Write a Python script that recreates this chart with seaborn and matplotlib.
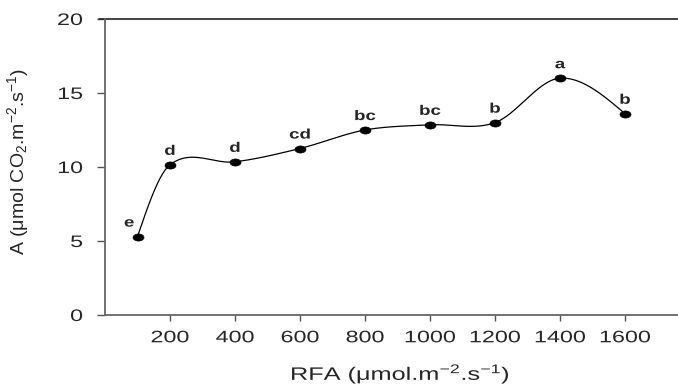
import numpy as np
import pandas as pd
import matplotlib
matplotlib.use("Agg")
import matplotlib.pyplot as plt
from matplotlib.patheffects import AbstractPathEffect
from matplotlib.transforms import Affine2D
from matplotlib.markers import MarkerStyle
import seaborn as sns

# Data
rfa = [100, 200, 400, 600, 800, 1000, 1200, 1400, 1600]
assim = [5.3, 10.15, 10.35, 11.25, 12.5, 12.85, 13.0, 16.0, 13.6]
letters = ["e", "d", "d", "cd", "bc", "bc", "b", "a", "b"]
xticks = [200, 400, 600, 800, 1000, 1200, 1400, 1600]
yticks = [0, 5, 10, 15, 20]

sns.set_theme(style="white")
plt.rcParams['font.family'] = ['Liberation Sans', 'DejaVu Sans']
plt.rcParams['mathtext.fontset'] = 'custom'
plt.rcParams['mathtext.rm'] = 'Liberation Sans'
plt.rcParams['mathtext.it'] = 'Liberation Sans:italic'
plt.rcParams['mathtext.bf'] = 'Liberation Sans:bold'


class StretchX(AbstractPathEffect):
    """Stretch drawn text horizontally (display x) about an anchor."""
    def __init__(self, sx=1.4, anchor="center"):
        super().__init__()
        self.sx = sx
        self.anchor = anchor

    def draw_path(self, renderer, gc, tpath, affine, rgbFace=None):
        ext = tpath.get_extents(affine)
        if self.anchor == "right":
            cx = ext.x1
        elif self.anchor == "left":
            cx = ext.x0
        else:
            cx = 0.5 * (ext.x0 + ext.x1)
        new = affine + Affine2D().translate(-cx, 0).scale(self.sx, 1).translate(cx, 0)
        renderer.draw_path(gc, tpath, new, rgbFace)


def cardinal_curve(x, y, n=60):
    x = np.asarray(x, float); y = np.asarray(y, float)
    m = len(x)
    t = np.zeros(m)
    for i in range(1, m - 1):
        t[i] = (y[i + 1] - y[i - 1]) / (x[i + 1] - x[i - 1])
    s0 = (y[1] - y[0]) / (x[1] - x[0])
    s1 = (y[-1] - y[-2]) / (x[-1] - x[-2])
    t[0] = (3 * s0 - t[1]) / 2
    t[-1] = (3 * s1 - t[-2]) / 2
    xs_all, ys_all = [], []
    for i in range(m - 1):
        h = x[i + 1] - x[i]
        u = np.linspace(0, 1, n, endpoint=(i == m - 2))
        h00 = 2 * u**3 - 3 * u**2 + 1
        h10 = u**3 - 2 * u**2 + u
        h01 = -2 * u**3 + 3 * u**2
        h11 = u**3 - u**2
        xs_all.append(x[i] + u * h)
        ys_all.append(h00 * y[i] + h10 * h * t[i] + h01 * y[i + 1] + h11 * h * t[i + 1])
    return np.concatenate(xs_all), np.concatenate(ys_all)


xs, ys = cardinal_curve(rfa, assim)
df = pd.DataFrame({"RFA": rfa, "A": assim})
curve = pd.DataFrame({"RFA": xs, "A": ys})

fig = plt.figure(figsize=(6.78, 3.87), dpi=100)
ax = fig.add_axes([105 / 678, 72 / 387, 1 - 105 / 678, (315 - 19) / 387])

sns.lineplot(data=curve, x="RFA", y="A", ax=ax, color="black", linewidth=0.9, sort=False)
ell = MarkerStyle("o", transform=Affine2D().scale(1.55, 1.0))
sns.scatterplot(data=df, x="RFA", y="A", ax=ax, color="black", s=26, marker=ell,
                edgecolor="black", linewidth=0.5, zorder=5)

stretch_c = [StretchX(1.35, "center")]
for xv, yv, lab in zip(rfa, assim, letters):
    dx = -6 if lab == "e" else 0
    ax.annotate(lab, (xv, yv), xytext=(dx, 5), textcoords="offset points",
                ha="center", va="bottom", fontsize=10, fontweight="bold",
                path_effects=stretch_c)

ax.set_xlim(0, 1763)
ax.set_ylim(0, 20)
ax.set_xticks(xticks)
ax.set_yticks(yticks)
ax.tick_params(axis="y", direction="out", length=6, width=1, color="#555555",
               labelsize=12, pad=10, left=True)
ax.tick_params(axis="x", direction="out", length=4, width=1, color="#555555",
               labelsize=12, pad=7, bottom=True)
for lbl in ax.get_yticklabels():
    lbl.set_path_effects([StretchX(1.4, "right")])
for lbl in ax.get_xticklabels():
    lbl.set_path_effects([StretchX(1.4, "center")])

for s in ["left", "bottom"]:
    ax.spines[s].set_color("#666666")
    ax.spines[s].set_linewidth(1.3)
ax.spines["right"].set_visible(False)
ax.spines["top"].set_visible(False)
# top line at y=20 extending from the tick start
ax.plot([-6 / 573, 1.0], [1, 1], transform=ax.transAxes, color="#222222", lw=1.2, clip_on=False)

ax.set_xlabel("RFA (μmol.m$^{-2}$.s$^{-1}$)", fontsize=13,
              path_effects=[StretchX(1.4, "center")])
ax.xaxis.set_label_coords(0.515, -0.158)
ax.set_ylabel("A (μmol CO$_2$.m$^{-2}$.s$^{-1}$)", fontsize=14)
ax.yaxis.set_label_coords(-0.13, 0.52)

fig.savefig("out.png", dpi=100)
